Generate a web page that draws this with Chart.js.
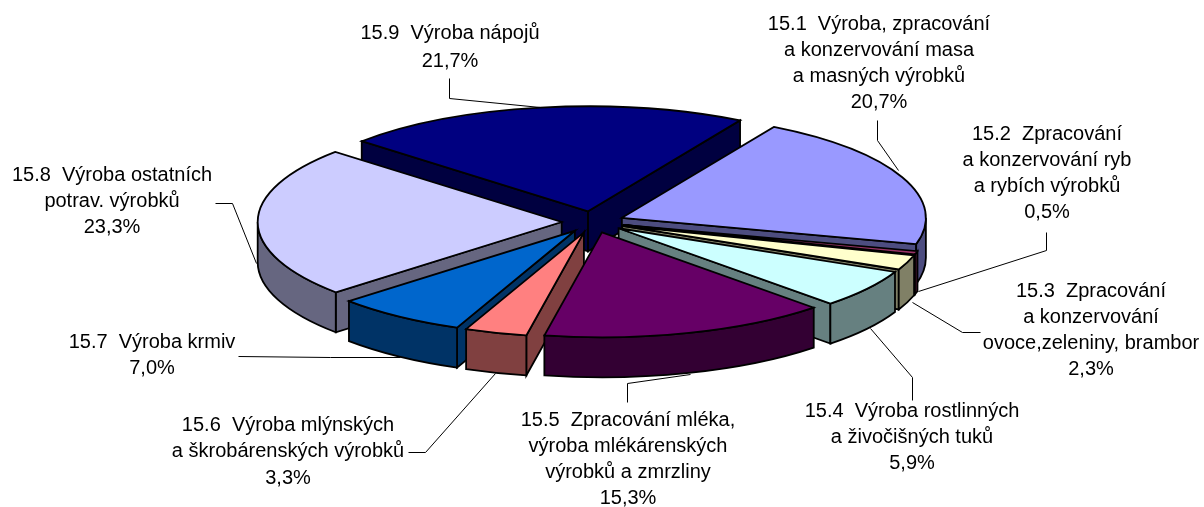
<!DOCTYPE html>
<html><head><meta charset="utf-8">
<style>html,body{margin:0;padding:0;background:#fff;overflow:hidden}#w{width:1204px;height:507px;position:relative}</style>
<script src="https://cdn.jsdelivr.net/npm/chart.js@4"></script>
</head><body><div id="w"><canvas id="c" width="1204" height="507"></canvas></div>
<script>
const categories = [
  ["15.1  Výroba, zpracování","a konzervování masa","a masných výrobků"],
  ["15.2  Zpracování","a konzervování ryb","a rybích výrobků"],
  ["15.3  Zpracování","a konzervování","ovoce,zeleniny, brambor"],
  ["15.4  Výroba rostlinných","a živočišných tuků"],
  ["15.5  Zpracování mléka,","výroba mlékárenských","výrobků a zmrzliny"],
  ["15.6  Výroba mlýnských","a škrobárenských výrobků"],
  ["15.7  Výroba krmiv"],
  ["15.8  Výroba ostatních","potrav. výrobků"],
  ["15.9  Výroba nápojů"]
];
const values = [20.7,0.5,2.3,5.9,15.3,3.3,7.0,23.3,21.7];
const colors = ["#9999FF","#993366","#FFFFCC","#CCFFFF","#660066","#FF8080","#0066CC","#CCCCFF","#000080"];
// layout of the texts and leaders
const labelCentres = [[879,24.5,26],[1047,134,26],[1091,291,26.3],[912,411,26],[628,420,26],[288,425,26.5],[152,342,26],[112,175,26],[450,33,28]];
const leaders = [
  [[877,120],[877,140],[898,170]],
  [[1046,232],[1046,250],[918,291]],
  [[980,332],[962,332],[912,302]],
  [[912,400],[912,377],[870,328]],
  [[627,402],[627,383],[690,374]],
  [[408,452],[425,452],[495,373]],
  [[238,356],[330,357],[400,357]],
  [[215,203],[232,203],[256,263]],
  [[449,78],[449,98],[540,107]]
];
const view = {cx:593, cy:222, rx:304, ry:105, depth:40, firstAngle:30, radius:200, explode:0.103};

function darker(hex){
  const n=parseInt(hex.slice(1),16);
  const f=v=>Math.round(v/2);
  return `rgb(${f(n>>16&255)},${f(n>>8&255)},${f(n&255)})`;
}
const pie3d = {
  id:'pie3d',
  beforeDatasetDraw(chart){
    const ctx=chart.ctx, meta=chart.getDatasetMeta(0);
    const items=meta.data.map((arc,i)=>{
      const p=arc.getProps(['x','y','startAngle','endAngle','outerRadius']);
      const mid=(p.startAngle+p.endAngle)/2, R=p.outerRadius;
      const sx=view.rx/R, sy=view.ry/R, off=view.explode;
      const ax=view.cx+view.rx*off*Math.cos(mid), ay=view.cy+view.ry*off*Math.sin(mid);
      return {arc,i,p,mid,R,sx,sy,ax,ay};
    });
    items.sort((a,b)=>Math.sin(a.mid)-Math.sin(b.mid));
    const stroke=()=>{ctx.lineWidth=1.8;ctx.strokeStyle='#000';ctx.lineJoin='miter';ctx.stroke();};
    const d=view.depth;
    for(const it of items){
      const {arc,i,p,ax,ay}=it, rx=view.rx, ry=view.ry, wall=darker(colors[i]);
      const s=p.startAngle,e=p.endAngle;
      const quad=a=>{
        const x=ax+rx*Math.cos(a), y=ay+ry*Math.sin(a);
        ctx.beginPath();ctx.moveTo(ax,ay);ctx.lineTo(x,y);ctx.lineTo(x,y+d);ctx.lineTo(ax,ay+d);ctx.closePath();
        ctx.fillStyle=wall;ctx.fill();stroke();
      };
      if(-Math.cos(s)>0) quad(s);
      if(Math.cos(e)>0) quad(e);
      // outer rim: only the part that faces the viewer
      const ranges=[[0,Math.PI],[2*Math.PI,3*Math.PI]];
      for(const [lo,hi] of ranges){
        const a0=Math.max(s,lo), a1=Math.min(e,hi);
        if(a1>a0){
          ctx.beginPath();
          ctx.ellipse(ax,ay,rx,ry,0,a0,a1);
          ctx.ellipse(ax,ay+d,rx,ry,0,a1,a0,true);
          ctx.closePath();
          ctx.fillStyle=wall;ctx.fill();stroke();
        }
      }
      // the top face: library arc element under the pie's view transform
      ctx.save();
      ctx.translate(ax,ay);
      ctx.scale(it.sx,it.sy);
      ctx.translate(-p.x,-p.y);
      arc.draw(ctx,chart.chartArea);
      ctx.restore();
      ctx.beginPath();
      ctx.moveTo(ax,ay);
      ctx.ellipse(ax,ay,rx,ry,0,s,e);
      ctx.closePath();
      stroke();
    }
    return false;
  },
  afterDraw(chart){
    const ctx=chart.ctx;
    ctx.save();
    ctx.strokeStyle='#000';ctx.lineWidth=1;
    ctx.translate(.5,.5);
    for(const l of leaders){
      ctx.beginPath();
      l.forEach((q,k)=>k?ctx.lineTo(q[0],q[1]):ctx.moveTo(q[0],q[1]));
      ctx.stroke();
    }
    ctx.translate(-.5,-.5);
    ctx.fillStyle='#000';ctx.textAlign='center';ctx.textBaseline='middle';
    ctx.font='20px "Liberation Sans", Arial, sans-serif';
    categories.forEach((lines,i)=>{
      const [x,y,lh]=labelCentres[i];
      const all=lines.concat(values[i].toFixed(1).replace('.',',')+'%');
      all.forEach((t,k)=>ctx.fillText(t,x,y+k*lh));
    });
    ctx.restore();
  }
};
new Chart(document.getElementById('c'),{
  type:'pie',
  data:{labels:categories.map(c=>c.join(' ')),datasets:[{
    data:values,backgroundColor:colors,borderWidth:0,clip:false
  }]},
  options:{
    responsive:false,animation:false,rotation:view.firstAngle,radius:view.radius,
    layout:{padding:0},
    plugins:{legend:{display:false},tooltip:{enabled:false},title:{display:false}}
  },
  plugins:[pie3d]
});
</script></body></html>
